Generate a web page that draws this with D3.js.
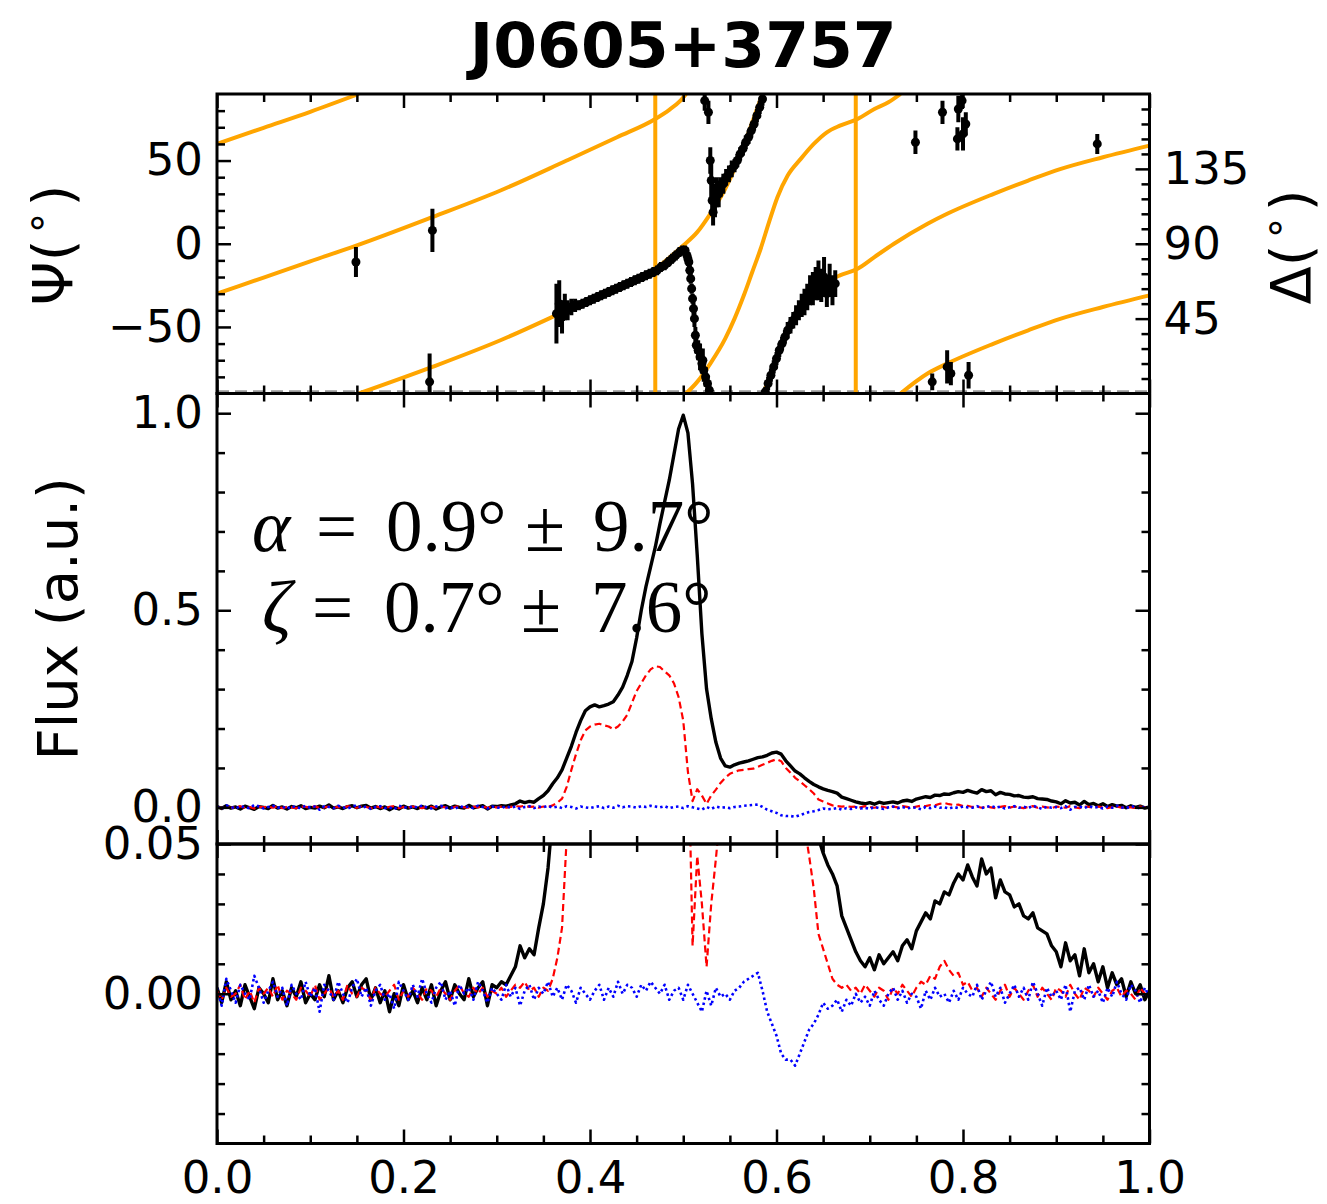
<!DOCTYPE html>
<html>
<head>
<meta charset="utf-8">
<script src="https://cdn.jsdelivr.net/npm/d3@7"></script>
<style>
  body { margin: 0; background: #fff; }
  svg { display: block; }
</style>
</head>
<body>
<svg id="chart" width="1327" height="1204"></svg>
<script>
// ─────────────────────────────────────────────
// DONNÉES
// ─────────────────────────────────────────────
const pulsarName = 'J0605+3757';
const phaseStep  = 0.005;   // profils échantillonnés tous les 0.005 en phase

// Intensité totale I (noir)
const fluxI = [
  0.002,-0.003,0.004,-0.002,0.001,-0.004,0.003,-0.001,-0.005,0.002,0.000,-0.003,0.005,-0.002,0.001,-0.004,0.002,-0.001,0.004,-0.003,
  0.000,-0.002,0.003,-0.001,0.006,-0.002,0.001,-0.003,0.002,0.004,-0.001,0.003,0.005,-0.002,0.002,-0.003,0.001,-0.006,0.000,-0.004,
  0.003,-0.002,0.001,-0.003,0.002,-0.002,0.003,-0.004,0.001,0.004,-0.002,0.003,0.000,-0.002,0.005,-0.001,0.002,0.004,-0.004,0.003,
  0.002,0.004,0.003,0.006,0.009,0.016,0.012,0.015,0.013,0.022,0.030,0.042,0.060,0.075,0.095,0.125,0.155,0.190,0.220,0.245,
  0.255,0.260,0.255,0.258,0.262,0.268,0.285,0.305,0.335,0.370,0.430,0.500,0.560,0.610,0.660,0.720,0.775,0.830,0.895,0.960,
  0.995,0.950,0.820,0.640,0.440,0.300,0.225,0.165,0.125,0.105,0.102,0.108,0.112,0.115,0.118,0.122,0.126,0.128,0.132,0.138,
  0.140,0.135,0.118,0.105,0.092,0.085,0.075,0.066,0.058,0.052,0.047,0.043,0.040,0.036,0.026,0.022,0.018,0.014,0.011,0.009,
  0.012,0.008,0.013,0.010,0.012,0.014,0.011,0.016,0.018,0.015,0.021,0.024,0.027,0.025,0.031,0.030,0.034,0.033,0.037,0.040,
  0.038,0.043,0.039,0.036,0.045,0.040,0.042,0.032,0.038,0.034,0.033,0.029,0.030,0.026,0.025,0.027,0.022,0.021,0.020,0.016,
  0.014,0.009,0.017,0.011,0.013,0.006,0.015,0.007,0.010,0.004,0.009,0.002,0.007,0.003,0.005,-0.001,0.004,0.000,0.003,-0.002,0.001
];

// Polarisation linéaire L (rouge, tirets)
const fluxL = [
  0.001,-0.002,0.002,-0.001,0.000,0.003,-0.002,0.001,-0.003,0.002,0.000,0.002,-0.001,0.003,-0.002,0.001,0.000,-0.002,0.002,0.001,
  -0.001,0.003,-0.002,0.000,0.002,-0.001,0.001,-0.002,0.003,0.000,-0.001,0.002,0.001,-0.002,0.002,0.000,-0.001,0.001,0.003,-0.002,
  0.001,-0.001,0.002,0.000,-0.002,0.002,0.001,-0.001,0.002,0.000,-0.002,0.001,0.003,0.000,-0.001,0.002,0.000,0.002,-0.001,0.001,
  0.000,0.002,-0.001,0.001,0.003,0.002,0.004,0.001,0.002,-0.001,0.002,0.001,0.005,0.012,0.022,0.052,0.095,0.135,0.170,0.195,
  0.205,0.210,0.212,0.208,0.205,0.198,0.205,0.218,0.235,0.265,0.295,0.315,0.335,0.350,0.358,0.356,0.345,0.335,0.315,0.280,
  0.220,0.090,0.016,0.046,0.030,0.009,0.030,0.045,0.062,0.075,0.085,0.090,0.094,0.095,0.097,0.098,0.103,0.108,0.113,0.118,
  0.122,0.117,0.100,0.088,0.075,0.066,0.056,0.046,0.035,0.020,0.015,0.010,0.005,0.003,0.002,0.003,0.001,0.002,0.000,0.003,
  0.001,-0.001,0.002,0.001,-0.002,0.002,0.000,0.003,0.001,-0.001,0.002,0.004,0.003,0.006,0.005,0.009,0.011,0.008,0.006,0.007,
  0.003,0.004,0.001,0.002,-0.001,0.002,0.000,-0.002,0.001,0.003,-0.001,0.002,0.000,-0.002,0.001,0.003,-0.001,0.002,0.000,-0.002,
  0.002,0.001,-0.001,0.003,0.000,-0.002,0.002,0.001,-0.001,0.002,0.000,-0.002,0.001,0.002,-0.001,0.001,0.000,-0.002,0.002,0.000,-0.001
];

// Polarisation circulaire V (bleu, pointillés)
const fluxV = [
  0.002,-0.004,0.005,0.001,-0.003,0.003,0.000,-0.002,0.006,0.002,-0.003,0.001,0.004,-0.001,0.002,-0.004,0.003,0.000,-0.002,0.004,
  -0.001,0.002,-0.006,0.003,0.001,-0.002,0.004,0.000,-0.003,0.002,0.005,-0.001,0.002,-0.004,0.001,0.003,-0.002,0.000,-0.005,0.004,
  0.001,-0.002,0.003,-0.001,0.005,0.000,-0.003,0.002,0.004,-0.002,0.001,-0.004,0.003,0.000,0.002,-0.002,0.004,0.001,-0.003,0.002,
  0.000,-0.002,0.003,-0.001,0.002,-0.004,0.001,0.003,-0.002,0.002,0.000,0.004,-0.001,0.002,-0.002,0.003,0.001,-0.003,0.002,0.000,
  -0.002,0.001,0.003,-0.002,0.002,-0.001,0.004,0.000,0.003,0.002,-0.001,0.003,0.001,0.004,0.002,0.000,0.003,-0.002,0.001,0.002,
  -0.002,0.003,0.000,-0.003,-0.006,0.001,-0.004,0.002,-0.001,0.000,-0.002,0.001,0.002,0.004,0.005,0.006,0.007,0.001,-0.006,-0.010,
  -0.014,-0.020,-0.022,-0.022,-0.024,-0.020,-0.016,-0.012,-0.010,-0.007,-0.003,-0.005,-0.004,-0.002,-0.006,-0.002,-0.004,0.000,-0.003,-0.001,
  -0.004,0.001,-0.002,-0.004,0.000,0.002,-0.002,0.001,-0.003,0.000,-0.001,-0.005,0.001,-0.002,0.002,-0.001,0.000,-0.003,0.001,-0.002,
  0.002,0.000,-0.001,0.003,-0.002,0.001,0.004,-0.001,0.002,-0.003,0.000,0.003,-0.001,0.002,-0.002,0.004,0.000,-0.004,0.002,-0.001,
  0.001,-0.002,0.003,-0.006,0.001,0.002,-0.002,0.003,-0.001,0.001,-0.003,0.002,-0.001,0.004,0.000,-0.002,0.003,0.001,-0.003,0.002,-0.001
];

// Angle de position Ψ (points noirs + barres d'erreur)
const paPhase = [
  0.149,0.231,0.228,
  0.364,0.367,0.370,0.373,0.376,0.380,0.384,0.388,0.392,0.396,0.400,0.404,0.408,0.412,0.416,0.420,0.424,0.428,
  0.432,0.436,0.440,0.444,0.448,0.452,0.456,0.460,0.464,0.468,0.472,0.476,0.480,0.484,0.488,0.492,0.496,0.499,
  0.502,0.504,0.505,0.506,0.507,0.508,0.509,0.510,0.511,0.512,
  0.513,0.514,0.516,0.518,0.520,0.521,0.522,0.524,0.526,0.528,
  0.523,0.527,
  0.529,0.530,0.531,0.532,0.534,0.536,0.538,0.540,0.543,0.546,0.549,0.552,0.555,0.558,0.561,0.564,0.567,0.570,
  0.573,0.576,0.579,0.582,0.585,
  0.588,0.591,0.594,0.597,0.600,0.603,0.606,0.609,0.612,0.615,0.618,0.621,0.624,0.627,0.630,0.633,0.636,0.639,
  0.642,0.645,0.648,0.651,0.654,0.657,0.660,0.663,
  0.749,0.778,0.795,0.794,0.799,0.800,0.803,0.944,0.767,0.783,0.787,0.806
];
const paDeg = [
  -11,8,-83,
  -42,-36,-44,-38,-40,-38,-37,-37,-36,-35,-34,-33,-32,-31,-30,-29,-28,-27,
  -26,-25,-24,-23,-22,-21,-20,-19,-18,-17,-16,-14,-13,-11,-9,-7,-5,-4,
  -4,-7,-9,-11,-16,-21,-27,-33,-39,-45,
  -55,-61,-64,-68,-72,-70,-76,-80,-84,-88,
  86,79,
  50,38,26,19,26,31,30,34,36,40,42,45,47,50,54,57,61,64,
  68,72,77,82,87,
  -89,-84,-79,-74,-69,-64,-60,-56,-52,-49,-46,-43,-40,-37,-35,-32,-28,-27,
  -24,-22,-25,-20,-30,-22,-28,-24,
  61,79,81,63,86,66,72,60,-83,-74,-78,-79
];
const paErr = [
  9,13,17,
  18,14,10,8,6,5,4,3,3,3,3,3,3,3,3,3,3,3,
  3,3,3,3,3,3,3,3,3,3,3,3,3,3,3,3,3,3,
  3,3,3,3,3,3,3,3,4,5,
  5,5,6,8,6,7,7,6,5,4,
  6,7,
  8,10,9,8,10,9,8,6,6,5,5,5,4,4,4,4,4,4,
  4,4,4,4,4,
  3,4,4,4,4,4,4,4,5,5,5,6,6,7,8,8,9,10,
  10,12,10,12,8,10,9,8,
  7,7,8,7,5,10,7,6,5,10,7,8
];

// Courbes RVM ajustées (orange), par branche entre deux repliements à ±90°
const rvmBranches = [
  [[0, 60], [0.05, 69.7], [0.10, 79.3], [0.152, 90]],
  [[0, -30], [0.05, -20.3], [0.10, -10.6], [0.15, -1], [0.231, 16], [0.304, 32], [0.375, 50], [0.429, 64],
   [0.47, 75], [0.485, 80.5], [0.497, 86], [0.503, 90]],
  [[0.152, -90], [0.231, -74], [0.304, -58], [0.375, -40], [0.429, -26], [0.47, -15], [0.5, -1], [0.515, 7],
   [0.529, 18], [0.545, 33], [0.555, 45], [0.565, 59], [0.574, 73], [0.583, 87], [0.585, 90]],
  [[0.503, -90], [0.515, -83], [0.529, -72], [0.545, -57], [0.555, -45], [0.565, -31], [0.574, -17], [0.583, -3],
   [0.592, 13], [0.601, 28], [0.612, 41], [0.626, 51], [0.640, 60], [0.654, 67], [0.668, 71], [0.687, 75],
   [0.705, 81], [0.720, 85], [0.733, 90]],
  [[0.586, -90], [0.590, -84], [0.597, -73], [0.604, -62], [0.611, -53], [0.618, -46], [0.626, -39], [0.633, -33],
   [0.640, -29], [0.654, -23], [0.668, -19], [0.687, -15], [0.705, -8], [0.726, 0], [0.762, 12], [0.783, 18],
   [0.833, 30], [0.87, 38], [0.905, 45], [0.95, 52], [1.0, 59]],
  [[0.733, -90], [0.762, -78], [0.783, -72], [0.833, -60], [0.87, -52], [0.905, -45], [0.95, -38], [1.0, -31]]
];
const rvmMarks = [0.470, 0.685];      // traits verticaux orange
const deltaLevel = 1;                 // Δ (tireté gris) au ras de l'axe

const fitText = [
  { sym: 'α', val: '0.9°', err: '9.7°' },
  { sym: 'ζ', val: '0.7°', err: '7.6°' }
];

// graduations
const phaseMajor = [0, 0.2, 0.4, 0.6, 0.8, 1.0];
const phaseMinor = d3.range(0, 21).map(k => k / 20).filter(v => Math.round(v * 100) % 20 !== 0);
const psiMajor   = [-50, 0, 50];
const psiMinor   = d3.range(-80, 81, 10).filter(v => v % 50 !== 0);
const deltaMajor = [45, 90, 135];
const deltaMinor = d3.range(9, 180, 9).filter(v => v % 45 !== 0);
const fluxMajor  = [0, 0.5, 1.0];
const fluxMinor  = [0.1, 0.2, 0.3, 0.4, 0.6, 0.7, 0.8, 0.9];
const zoomMajor  = [0, 0.05];
const zoomMinor  = [-0.04, -0.03, -0.02, -0.01, 0.01, 0.02, 0.03, 0.04];

// ─────────────────────────────────────────────
// MISE EN PAGE
// ─────────────────────────────────────────────
const FONT  = 'DejaVu Sans, sans-serif';
const SERIF = 'Liberation Serif, Times New Roman, serif';
const ORANGE = '#ffa500';
const xL = 217, xR = 1149.5;
const P = {
  pa:   { top: 94,    bottom: 393.5 },
  flux: { top: 393.5, bottom: 844 },
  zoom: { top: 844,   bottom: 1143.5 }
};
const MAJ = 14, MIN = 8;

const svg = d3.select('#chart');
const x      = d3.scaleLinear().domain([0, 1]).range([xL, xR]);
const yPA    = d3.scaleLinear().domain([-90, 90]).range([P.pa.bottom, P.pa.top]);
const yDelta = d3.scaleLinear().domain([0, 180]).range([P.pa.bottom, P.pa.top]);
const yFlux  = d3.scaleLinear().domain([-0.093, 1.05]).range([P.flux.bottom, P.flux.top]);
const yZoom  = d3.scaleLinear().domain([-0.05, 0.05]).range([P.zoom.bottom, P.zoom.top]);

// zones de découpe
const defs = svg.append('defs');
Object.entries(P).forEach(([k, p]) => {
  defs.append('clipPath').attr('id', 'clip-' + k).append('rect')
    .attr('x', xL).attr('y', p.top).attr('width', xR - xL).attr('height', p.bottom - p.top);
});

// ─────────────────────────────────────────────
// PANNEAU Ψ
// ─────────────────────────────────────────────
const gPA = svg.append('g').attr('clip-path', 'url(#clip-pa)');

gPA.append('line')
  .attr('x1', x(0)).attr('x2', x(1))
  .attr('y1', yDelta(deltaLevel)).attr('y2', yDelta(deltaLevel))
  .attr('stroke', '#999').attr('stroke-width', 3).attr('stroke-dasharray', '12,6');

const rvmLine = d3.line().x(d => x(d[0])).y(d => yPA(d[1])).curve(d3.curveMonotoneX);
gPA.selectAll('path.rvm').data(rvmBranches).enter().append('path')
  .attr('class', 'rvm')
  .attr('d', rvmLine)
  .attr('fill', 'none').attr('stroke', ORANGE).attr('stroke-width', 4);

gPA.selectAll('line.mark').data(rvmMarks).enter().append('line')
  .attr('class', 'mark')
  .attr('x1', d => x(d)).attr('x2', d => x(d))
  .attr('y1', P.pa.top).attr('y2', P.pa.bottom)
  .attr('stroke', ORANGE).attr('stroke-width', 4);

const pts = paPhase.map((p, i) => ({ p, v: paDeg[i], e: paErr[i] }));
gPA.selectAll('line.err').data(pts).enter().append('line')
  .attr('class', 'err')
  .attr('x1', d => x(d.p)).attr('x2', d => x(d.p))
  .attr('y1', d => yPA(d.v - d.e)).attr('y2', d => yPA(d.v + d.e))
  .attr('stroke', '#000').attr('stroke-width', 4);
gPA.selectAll('circle').data(pts).enter().append('circle')
  .attr('cx', d => x(d.p)).attr('cy', d => yPA(d.v)).attr('r', 4.5)
  .attr('fill', '#000');

// ─────────────────────────────────────────────
// PROFILS (panneau flux + panneau zoom)
// ─────────────────────────────────────────────
const series = [
  { values: fluxI, color: '#000',    width: 3.4, dash: null },
  { values: fluxL, color: '#ff0000', width: 2.2, dash: '7,4' },
  { values: fluxV, color: '#0000ff', width: 2.6, dash: '2.5,3' }
];
[['flux', yFlux], ['zoom', yZoom]].forEach(([k, sc]) => {
  const g = svg.append('g').attr('clip-path', `url(#clip-${k})`);
  const ln = d3.line().x((d, i) => x(i * phaseStep)).y(d => sc(d));
  series.forEach(s => {
    g.append('path')
      .attr('d', ln(s.values))
      .attr('fill', 'none')
      .attr('stroke', s.color)
      .attr('stroke-width', s.width)
      .attr('stroke-linejoin', 'round')
      .attr('stroke-dasharray', s.dash);
  });
});

// texte α / ζ  (positions des morceaux)
const fitCols = [[252, 316, 386, 525, 593], [262, 312, 384, 521, 591]];
fitText.forEach((t, i) => {
  const txt = svg.append('text')
    .attr('y', 551 + i * 81)
    .attr('font-family', SERIF).attr('font-size', 73).attr('fill', '#000');
  const c = fitCols[i];
  txt.append('tspan').attr('x', c[0]).attr('font-style', 'italic').text(t.sym);
  txt.append('tspan').attr('x', c[1]).text('=');
  txt.append('tspan').attr('x', c[2]).text(t.val);
  txt.append('tspan').attr('x', c[3]).text('±');
  txt.append('tspan').attr('x', c[4]).text(t.err);
});

// ─────────────────────────────────────────────
// AXES
// ─────────────────────────────────────────────
function addAxis(orient, scale, pos, values, len, fmt, pad) {
  const maker = { left: d3.axisLeft, right: d3.axisRight, top: d3.axisTop, bottom: d3.axisBottom }[orient];
  const vertical = orient === 'left' || orient === 'right';
  const g = svg.append('g')
    .attr('transform', vertical ? `translate(${pos},0)` : `translate(0,${pos})`)
    .call(maker(scale).tickValues(values).tickSize(-len).tickPadding(pad || 14)
      .tickFormat(fmt || (() => '')));
  g.select('.domain').remove();
  g.selectAll('.tick line').attr('stroke', '#000').attr('stroke-width', 2.5);
  g.selectAll('.tick text').attr('fill', '#000').attr('font-family', FONT).attr('font-size', 45);
  return g;
}

// axes x de chaque panneau (haut + bas)
Object.entries(P).forEach(([k, p]) => {
  addAxis('top', x, p.top, phaseMajor, MAJ);
  addAxis('top', x, p.top, phaseMinor, MIN);
  addAxis('bottom', x, p.bottom, phaseMajor, MAJ, k === 'zoom' ? d3.format('.1f') : null, 18);
  addAxis('bottom', x, p.bottom, phaseMinor, MIN);
});

// Ψ à gauche, Δ à droite
addAxis('left', yPA, xL, psiMajor, MAJ, d3.format('d'));
addAxis('left', yPA, xL, psiMinor, MIN);
addAxis('right', yDelta, xR, deltaMajor, MAJ, d3.format('d'));
addAxis('right', yDelta, xR, deltaMinor, MIN);

// flux
addAxis('left', yFlux, xL, fluxMajor, MAJ, d3.format('.1f'));
addAxis('left', yFlux, xL, fluxMinor, MIN);
addAxis('right', yFlux, xR, fluxMajor, MAJ);
addAxis('right', yFlux, xR, fluxMinor, MIN);

// zoom
addAxis('left', yZoom, xL, zoomMajor, MAJ, d3.format('.2f'));
addAxis('left', yZoom, xL, zoomMinor, MIN);
addAxis('right', yZoom, xR, zoomMajor, MAJ);
addAxis('right', yZoom, xR, zoomMinor, MIN);

// cadres
Object.values(P).forEach(p => {
  svg.append('rect')
    .attr('x', xL).attr('y', p.top).attr('width', xR - xL).attr('height', p.bottom - p.top)
    .attr('fill', 'none').attr('stroke', '#000').attr('stroke-width', 3);
});

// titres d'axes
function degLabel(cx, cy, sym) {
  const t = svg.append('text')
    .attr('transform', `translate(${cx},${cy}) rotate(-90)`)
    .attr('text-anchor', 'middle')
    .attr('font-family', FONT).attr('font-size', 56).attr('fill', '#000');
  t.append('tspan').text(sym + '(');
  t.append('tspan').attr('font-size', 40).attr('dy', -22).attr('dx', 4).text('∘');
  t.append('tspan').attr('dy', 22).attr('dx', 4).text(')');
}
degLabel(72, 245, 'Ψ');
degLabel(1310, 247, 'Δ');

svg.append('text')
  .attr('transform', `translate(77,${(P.flux.top + P.flux.bottom) / 2}) rotate(-90)`)
  .attr('text-anchor', 'middle')
  .attr('font-family', FONT).attr('font-size', 56).attr('fill', '#000')
  .text('Flux (a.u.)');

// titre
svg.append('text')
  .attr('x', (xL + xR) / 2).attr('y', 67)
  .attr('text-anchor', 'middle')
  .attr('font-family', FONT).attr('font-weight', 'bold').attr('font-size', 63).attr('fill', '#000')
  .text(pulsarName);
</script>
</body>
</html>
